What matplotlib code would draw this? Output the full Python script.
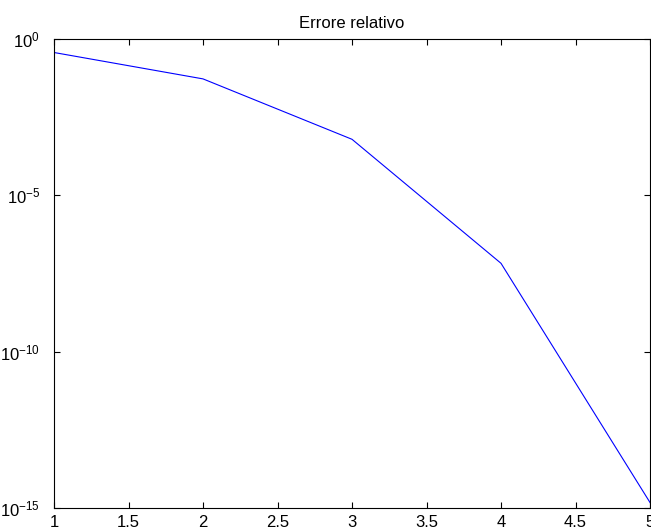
import matplotlib
matplotlib.use('Agg')
import matplotlib.pyplot as plt
from matplotlib.ticker import FixedLocator, NullLocator

# dati
n = [1, 2, 3, 4, 5]
errore = [3.7e-1, 5.3e-2, 6.2e-4, 6.7e-8, 1.5e-15]
x_ticks = [1, 1.5, 2, 2.5, 3, 3.5, 4, 4.5, 5]
y_ticks = [1e-15, 1e-10, 1e-5, 1e0]

plt.rcParams['font.family'] = ['Liberation Sans', 'DejaVu Sans']
plt.rcParams['mathtext.fontset'] = 'custom'
plt.rcParams['mathtext.rm'] = 'Liberation Sans'
plt.rcParams['mathtext.it'] = 'Liberation Sans'

fig = plt.figure(figsize=(6.51, 5.31), dpi=100)
ax = fig.add_axes([54 / 651, 23 / 531, 596 / 651, 469 / 531])

ax.semilogy(n, errore, color='#0000ff', linewidth=0.8)
ax.set_xlim(1, 5)
ax.set_ylim(1e-15, 1)
ax.xaxis.set_major_locator(FixedLocator(x_ticks))
ax.yaxis.set_major_locator(FixedLocator(y_ticks))
ax.yaxis.set_minor_locator(NullLocator())
ax.set_xticklabels([f"{t:g}" for t in x_ticks])

ax.tick_params(direction='in', top=True, right=True, length=4, width=0.8,
               labelsize=12)
ax.tick_params(axis='x', pad=5)
ax.tick_params(axis='y', pad=10)
for s in ax.spines.values():
    s.set_linewidth(0.8)

ax.set_title('Errore relativo', fontsize=12, pad=8)

fig.savefig('out.png', dpi=100)
